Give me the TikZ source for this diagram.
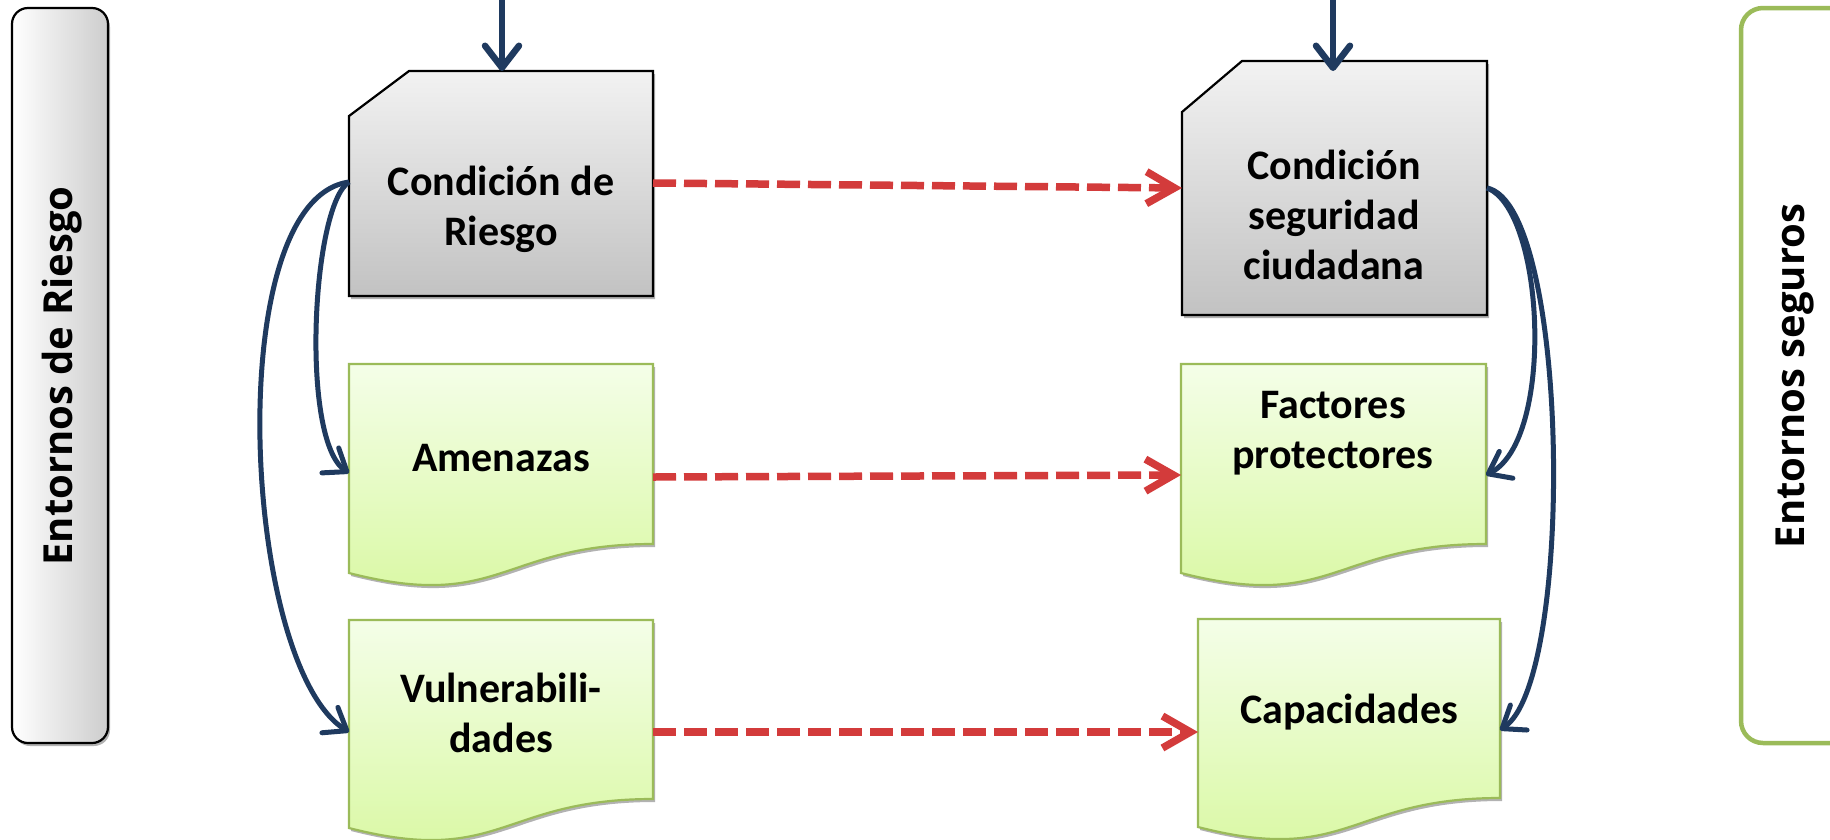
\documentclass[tikz,border=0pt]{standalone}
\usepackage{fontspec}
\newfontfamily\boxfont{Carlito}
\newfontfamily\labfont{Open Sans}
\usetikzlibrary{arrows.meta,shadows}
\definecolor{navy}{HTML}{1F3A5F}
\definecolor{redd}{HTML}{D33B3B}
\definecolor{grn}{HTML}{9BBB59}
\definecolor{grntop}{HTML}{F4FEE8}
\definecolor{grnbot}{HTML}{D8F8A0}
\definecolor{gtop}{HTML}{F2F2F2}
\definecolor{gbot}{HTML}{C2C2C2}
\definecolor{lbgray}{HTML}{CDCDCD}
\begin{document}
\begin{tikzpicture}[x=1pt,y=-1pt,
  boxtext/.style={font=\boxfont\bfseries\fontsize{42}{50}\selectfont, align=center, inner sep=0pt},
  sidelabel/.style={font=\labfont\bfseries\fontsize{40}{46}\selectfont, rotate=90, inner sep=0pt},
  softshadow/.style={drop shadow={shadow xshift=2pt,shadow yshift=-3pt,opacity=0.3,fill=black}},
  graybox/.style={draw=black, line width=2.2pt, top color=gtop, bottom color=gbot, softshadow},
  docbox/.style={draw=grn, line width=2.2pt, top color=grntop, bottom color=grnbot, softshadow},
  feed/.style={draw=navy, line width=6.5pt, -{Straight Barb[round,length=22pt,width=34pt]}},
  link/.style={draw=navy, line width=5pt, -{Straight Barb[round,length=20pt,width=30pt]}},
  pair/.style={draw=redd, line width=7.5pt, dash pattern=on 23pt off 8pt, -{Straight Barb[length=28pt,width=32pt]}},
]
\useasboundingbox (0,0) rectangle (1830,839);
\fill[white] (0,0) rectangle (1830,839);

% side bars
\path[draw=black, line width=2.2pt, left color=white, right color=lbgray, rounded corners=16pt, softshadow]
  (12,8) rectangle (108,743);
\path[draw=grn, line width=4.5pt, fill=white, rounded corners=22pt] (1741,8) rectangle (1880,743);
\node[sidelabel] (lab1) at (62,376) {Entornos de Riesgo};
\node[sidelabel] (lab2) at (1795,376) {Entornos seguros};

% gray boxes with cut corner
\path[graybox] (349,116) -- (409,71) -- (653,71) -- (653,296) -- (349,296) -- cycle;
\path[graybox] (1182,112) -- (1242,61) -- (1487,61) -- (1487,315) -- (1182,315) -- cycle;

% document boxes
\path[docbox] (349,364) -- (653,364) -- (653,544) .. controls (501,544) and (501,612) .. (349,573) -- cycle;
\path[docbox] (349,620) -- (653,620) -- (653,799) .. controls (501,799) and (501,867) .. (349,828) -- cycle;
\path[docbox] (1181,364) -- (1486,364) -- (1486,544) .. controls (1333,544) and (1333,612) .. (1181,573) -- cycle;
\path[docbox] (1198,619) -- (1500,619) -- (1500,798) .. controls (1349,798) and (1349,866) .. (1198,827) -- cycle;

% texts
\node[boxtext] (t1) at (501,209) {Condición de\\Riesgo};
\node[boxtext] (t2) at (1334,215) {Condición\\seguridad\\ciudadana};
\node[boxtext] (t3) at (501,458) {Amenazas};
\node[boxtext] (t4) at (1333,433) {Factores\\protectores};
\node[boxtext] (t5) at (501,713) {Vulnerabili-\\dades};
\node[boxtext] (t6) at (1349,712) {Capacidades};

% anchor coordinates
\coordinate (in1) at (502,-4);
\coordinate (r1T) at (502,71);
\coordinate (in2) at (1333,-4);
\coordinate (s1T) at (1333,71);
\coordinate (r1R) at (653,183);
\coordinate (s1L) at (1182,188);
\coordinate (aR) at (653,477);
\coordinate (fL) at (1181,475);
\coordinate (vR) at (653,732);
\coordinate (cL) at (1198,732);
\coordinate (r1L) at (349,182);
\coordinate (aL) at (349,473);
\coordinate (vL) at (349,732);
\coordinate (s1R) at (1487,188);
\coordinate (fR) at (1486,475);
\coordinate (cR) at (1500,730);

% connectors
\draw[feed] (in1) -- (r1T);
\draw[feed] (in2) -- (s1T);
\draw[pair] (r1R) -- (s1L);
\draw[pair] (aR) -- (fL);
\draw[pair] (vR) -- (cL);
\draw[link] (r1L) .. controls (312,205) and (300,440) .. (aL);
\draw[link] (r1L) .. controls (220,200) and (242,665) .. (vL);
\draw[link] (s1R) .. controls (1545,210) and (1555,440) .. (fR);
\draw[link] (s1R) .. controls (1570,205) and (1575,680) .. (cR);
\end{tikzpicture}
\end{document}
